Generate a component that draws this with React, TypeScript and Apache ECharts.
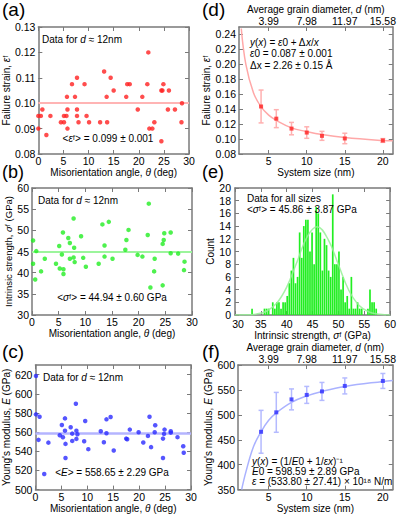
import { useEffect, useRef } from 'react';
import * as echarts from 'echarts';

// ---------------- data ----------------
// (a) failure strain vs misorientation angle (d ≈ 12 nm)
const thetaA = [0.0, 0.5, 0.0, 0.8, 1.6, 2.4, 4.5, 5.1, 5.1, 5.6, 5.7, 5.8, 5.8, 6.7, 7.3, 7.7, 7.7, 7.7, 8.0, 9.2, 9.6, 10.1, 12.3, 13.1, 13.6, 13.7, 14.4, 15.0, 17.5, 17.7, 18.2, 19.8, 20.7, 21.7, 21.9, 22.1, 22.7, 23.1, 24.5, 24.5, 24.7, 24.9, 25.8, 26.0, 27.2, 28.5, 28.6];
const strainA = [0.095, 0.095, 0.090, 0.0975, 0.0875, 0.095, 0.0925, 0.0925, 0.095, 0.095, 0.1025, 0.0975, 0.090, 0.1075, 0.1025, 0.110, 0.0975, 0.095, 0.0925, 0.1075, 0.095, 0.0925, 0.0925, 0.1125, 0.1025, 0.0925, 0.110, 0.105, 0.1025, 0.1075, 0.1075, 0.0975, 0.1025, 0.1075, 0.120, 0.090, 0.090, 0.0925, 0.085, 0.105, 0.105, 0.1075, 0.0975, 0.105, 0.0975, 0.0925, 0.100];
const meanStrain = 0.099;

// (b) intrinsic strength vs misorientation angle
const thetaB = [0.2, 0.2, 0.6, 0.8, 1.7, 2.4, 4.5, 5.1, 5.2, 5.6, 5.8, 5.9, 5.9, 6.8, 7.1, 7.1, 7.8, 7.9, 7.8, 8.0, 9.2, 9.6, 10.1, 12.5, 13.2, 13.6, 13.6, 14.4, 15.1, 17.5, 17.7, 18.1, 19.8, 20.7, 21.7, 21.9, 22.2, 23.0, 22.9, 24.5, 24.5, 24.7, 24.8, 26.0, 26.0, 27.4, 28.6, 28.5];
const strengthB = [47.6, 42.1, 38.4, 45.1, 40.3, 43.3, 42.1, 46.3, 41.0, 44.3, 49.5, 39.7, 40.8, 48.2, 47.0, 43.3, 52.8, 45.9, 43.6, 42.5, 48.6, 43.5, 41.4, 42.1, 51.4, 46.4, 43.8, 52.0, 43.3, 45.4, 47.7, 50.1, 44.2, 43.8, 48.9, 56.3, 36.5, 43.3, 40.3, 37.0, 46.8, 47.7, 49.3, 49.5, 44.6, 44.5, 42.6, 40.6];
const meanStrength = 44.94;

// (c) Young's modulus vs misorientation angle
const thetaC = [0.1, 0.1, 0.8, 0.6, 1.7, 2.5, 4.7, 5.1, 5.3, 5.7, 5.7, 5.8, 5.8, 6.8, 7.1, 7.1, 7.8, 7.9, 8.1, 7.9, 9.4, 9.6, 10.2, 12.6, 13.2, 13.7, 13.7, 14.5, 15.1, 17.5, 17.7, 18.2, 19.9, 20.8, 21.7, 22.0, 22.3, 23.1, 23.0, 24.6, 24.6, 24.9, 24.8, 26.1, 26.1, 27.4, 28.5, 28.6];
const modulusC = [618.6, 578.5, 576.0, 551.9, 516.3, 549.0, 556.7, 567.4, 554.6, 561.5, 574.3, 547.7, 532.9, 565.0, 550.8, 558.4, 589.5, 561.5, 557.8, 552.9, 550.5, 571.6, 542.2, 560.9, 549.4, 558.8, 573.3, 575.7, 540.8, 553.2, 552.6, 562.6, 559.9, 549.1, 556.0, 576.0, 544.3, 567.1, 559.9, 553.2, 532.9, 562.6, 558.1, 560.9, 559.4, 554.7, 545.3, 538.4];
const meanModulus = 558.65;

// (d) failure strain vs system size
const sizes = [4, 6, 8, 10, 12, 15, 20];
const strainBySize = [0.1436, 0.1273, 0.114, 0.1087, 0.1043, 0.1008, 0.0981];
const strainErr = [0.022, 0.012, 0.0083, 0.0077, 0.006, 0.007, 0.0025];
const strainFitX = [1.4, 2, 3, 4, 5, 6, 8, 10, 12, 15, 20, 21.3];
const strainFitY = [0.248, 0.2, 0.162, 0.143, 0.132, 0.125, 0.115, 0.11, 0.106, 0.102, 0.098, 0.0976];

// (e) histogram of intrinsic strength (all sizes)
const histCenters = [33.3, 35.7, 36.1, 36.5, 37.3, 37.7, 38.1, 38.5, 38.9, 39.3, 39.7, 40.1, 40.5, 40.9, 41.3, 41.7, 42.1, 42.5, 42.9, 43.3, 43.7, 44.1, 44.5, 44.9, 45.3, 45.7, 46.1, 46.5, 46.9, 47.3, 47.7, 48.1, 48.5, 48.9, 49.3, 49.7, 50.1, 50.5, 50.9, 51.3, 51.7, 52.1, 52.5, 52.9, 53.3, 53.7, 54.1, 54.5, 55.7, 56.1, 56.5, 56.9, 57.3];
const histCounts = [1, 1, 1, 1, 2, 1, 2, 2, 1, 2, 2, 3, 5, 7, 9, 5, 6, 13, 9, 14, 15, 15, 10, 13, 8, 17, 16, 13, 7, 12, 11, 7, 6, 19, 8, 8, 10, 4, 6, 2, 3, 1, 6, 1, 1, 2, 1, 1, 1, 4, 2, 2, 1];
const gaussX = [30, 32, 34, 36, 38, 40, 42, 44, 45.9, 48, 50, 52, 54, 56, 58, 60];
const gaussY = [0, 0.02, 0.13, 0.55, 1.8, 4.4, 8.4, 12.4, 13.9, 11.9, 7.9, 3.9, 1.5, 0.45, 0.1, 0];

// (f) Young's modulus vs system size
const modulusBySize = [466, 505, 531, 540, 547, 558, 568];
const modulusErr = [43, 40, 21, 17, 18, 16, 15];
const modulusFitX = [1.45, 2, 3, 4, 5, 6, 8, 10, 12, 15, 20, 21.3];
const modulusFitY = [350, 385, 436, 466, 489, 504, 525, 538, 547, 557, 567, 569];

// tick values / labels
const thetaTicks = [0, 5, 10, 15, 20, 25, 30];
const strainTicksA = [0.08, 0.09, 0.1, 0.11, 0.12, 0.13];
const strengthTicks = [30, 35, 40, 45, 50, 55, 60];
const modulusTicksC = [500, 520, 540, 560, 580, 600, 620];
const sizeTicks = [5, 10, 15, 20];
const diameterLabels = ['3.99', '7.98', '11.97', '15.58'];
const strainTicksD = [0.08, 0.1, 0.12, 0.14, 0.16, 0.18, 0.2, 0.22, 0.24];
const histTicks = [30, 35, 40, 45, 50, 55, 60];
const countTicks = [0, 2, 4, 6, 8, 10, 12, 14, 16, 18, 20];
const modulusTicksF = [350, 400, 450, 500, 550, 600];

// ---------------- styling helpers ----------------
const FONT = '"Liberation Sans", Arial, Helvetica, sans-serif';
const AX = '#7a7a7a';
const TXT = '#000000';
const RED = '#ff2020';
const GREEN = '#22ee22';
const BLUE = '#2a2aff';

const rich = (size: number) => ({
  n: { fontSize: size, fontFamily: FONT, color: TXT },
  i: { fontSize: size, fontFamily: FONT, color: TXT, fontStyle: 'italic' },
});

const fmt2 = (v: number) => v.toFixed(2);
const fmt0 = (v: number) => String(Math.round(v));
// first label of the histogram's x axis sits a little to the right, as in the reference
const fmtHistX = (v: number) => (v === histTicks[0] ? `{p|${v}}` : String(v));

function axisBase(grid: number, pos: string, min: number, max: number, ticks: number[]) {
  return {
    type: 'value',
    gridIndex: grid,
    position: pos,
    min,
    max,
    axisLine: { show: true, onZero: false, lineStyle: { color: AX, width: 1.5 } },
    axisTick: { show: true, inside: true, length: 4, customValues: ticks, lineStyle: { color: AX, width: 1 } },
    splitLine: { show: false },
    axisLabel: { show: false },
  };
}

function labeledAxis(
  grid: number, pos: string, min: number, max: number, ticks: number[],
  formatter: (v: number) => string, margin: number, name: string, nameGap: number,
  nameSize = 10,
) {
  return {
    ...axisBase(grid, pos, min, max, ticks),
    axisLabel: {
      show: true, customValues: ticks, formatter, margin,
      fontSize: 10.5, lineHeight: 10, fontFamily: FONT, color: TXT,
      rich: {
        p: { padding: [0, 0, 0, 6], fontSize: 10.5, lineHeight: 10, fontFamily: FONT, color: TXT },
      },
    },
    name,
    nameLocation: 'middle',
    nameGap,
    nameTextStyle: { fontSize: nameSize, fontFamily: FONT, color: TXT, rich: rich(nameSize) },
  };
}

function errorBars(xi: number, xs: number[], ys: number[], es: number[], color: string) {
  return {
    type: 'custom',
    xAxisIndex: xi,
    yAxisIndex: xi,
    data: xs.map((x, i) => [x, ys[i], es[i]]),
    encode: { x: 0, y: 1 },
    silent: true,
    z: 2,
    renderItem: (_p: any, api: any) => {
      const x = api.value(0);
      const y = api.value(1);
      const e = api.value(2);
      const p1 = api.coord([x, y + e]);
      const p2 = api.coord([x, y - e]);
      const w = 2.5;
      const st = { stroke: color, lineWidth: 1.5 };
      return {
        type: 'group',
        children: [
          { type: 'line', shape: { x1: p1[0], y1: p1[1], x2: p2[0], y2: p2[1] }, style: st },
          { type: 'line', shape: { x1: p1[0] - w, y1: p1[1], x2: p1[0] + w, y2: p1[1] }, style: st },
          { type: 'line', shape: { x1: p2[0] - w, y1: p2[1], x2: p2[0] + w, y2: p2[1] }, style: st },
        ],
      };
    },
  };
}

function fitLine(xi: number, xs: number[], ys: number[], color: string) {
  return {
    type: 'line',
    xAxisIndex: xi,
    yAxisIndex: xi,
    data: xs.map((x, i) => [x, ys[i]]),
    showSymbol: false,
    symbol: 'none',
    smooth: 0.4,
    clip: true,
    silent: true,
    z: 1,
    lineStyle: { color, width: 1.5 },
  };
}

function scatter(xi: number, xs: number[], ys: number[], color: string, mean?: number, meanColor?: string, meanWidth?: number, symbol = 'circle', size = 4.5) {
  const s: any = {
    type: 'scatter',
    xAxisIndex: xi,
    yAxisIndex: xi,
    data: xs.map((x, i) => [x, ys[i]]),
    symbol,
    symbolSize: size,
    itemStyle: { color },
    silent: true,
    z: 3,
  };
  if (mean !== undefined) {
    s.markLine = {
      silent: true,
      symbol: 'none',
      label: { show: false },
      lineStyle: { color: meanColor, width: meanWidth, type: 'solid', opacity: 1 },
      data: [{ yAxis: mean }],
      z: 1,
    };
  }
  return s;
}

function txt(x: number, y: number, text: string, align = 'left', size = 10, lineHeight?: number) {
  const lh = lineHeight ?? Math.round(size * 1.15);
  return {
    type: 'text',
    x,
    y,
    silent: true,
    z: 10,
    style: {
      text,
      fill: TXT,
      fontSize: size,
      fontFamily: FONT,
      lineHeight: lh,
      align,
      verticalAlign: 'middle',
      textAlign: align,
      textVerticalAlign: 'middle',
      rich: {
        n: { fontSize: size, fontFamily: FONT, fill: TXT, color: TXT, lineHeight: lh },
        i: { fontSize: size, fontFamily: FONT, fill: TXT, color: TXT, fontStyle: 'italic', lineHeight: lh },
      },
    },
  };
}

function buildOption() {
  const thetaName = 'Misorientation angle, {i|θ} (deg)';
  const xAxes = [
    // 0,1: (a)
    labeledAxis(0, 'bottom', 0, 30, thetaTicks, fmt0, 2, thetaName, 10),
    axisBase(0, 'top', 0, 30, thetaTicks),
    // 2,3: (b)
    labeledAxis(1, 'bottom', 0, 30, thetaTicks, fmt0, 2, thetaName, 12),
    axisBase(1, 'top', 0, 30, thetaTicks),
    // 4,5: (c)
    labeledAxis(2, 'bottom', 0, 30, thetaTicks, fmt0, 2, thetaName, 9),
    axisBase(2, 'top', 0, 30, thetaTicks),
    // 6,7: (d)
    labeledAxis(3, 'bottom', 1.1, 21.3, sizeTicks, fmt0, 2, 'System size (nm)', 9),
    labeledAxis(3, 'top', 1.1, 21.3, sizeTicks, (v: number) => diameterLabels[sizeTicks.indexOf(v)] ?? '', 1, 'Average grain diameter, {i|d} (nm)', 10),
    // 8,9: (e)
    labeledAxis(4, 'bottom', 30, 60, histTicks, fmtHistX, 4, 'Intrinsic strength, {i|σ}ᶠ (GPa)', 13),
    axisBase(4, 'top', 30, 60, histTicks),
    // 10,11: (f)
    labeledAxis(5, 'bottom', 0.97, 21.3, sizeTicks, fmt0, 2, 'System size (nm)', 6),
    labeledAxis(5, 'top', 0.97, 21.3, sizeTicks, (v: number) => diameterLabels[sizeTicks.indexOf(v)] ?? '', 1, 'Average grain diameter, {i|d} (nm)', 10),
  ];
  const yAxes = [
    labeledAxis(0, 'left', 0.08, 0.13, strainTicksA, fmt2, 3, 'Failure strain, {i|ε}ᶠ', 21),
    axisBase(0, 'right', 0.08, 0.13, strainTicksA),
    labeledAxis(1, 'left', 30, 60, strengthTicks, fmt0, 3, 'Intrinsic strength, {i|σ}ᶠ (GPa)', 18, 9.5),
    axisBase(1, 'right', 30, 60, strengthTicks),
    labeledAxis(2, 'left', 500, 630, modulusTicksC, fmt0, 3, "Young's modulus, {i|E} (GPa)", 21),
    axisBase(2, 'right', 500, 630, modulusTicksC),
    labeledAxis(3, 'left', 0.08, 0.25, strainTicksD, fmt2, 3, 'Failure strain, {i|ε}ᶠ', 23),
    axisBase(3, 'right', 0.08, 0.25, strainTicksD),
    labeledAxis(4, 'left', 0, 20, countTicks, fmt0, 4, 'Count', 19),
    axisBase(4, 'right', 0, 20, countTicks),
    labeledAxis(5, 'left', 350, 600, modulusTicksF, fmt0, 3, "Young's modulus, {i|E} (GPa)", 23),
    axisBase(5, 'right', 350, 600, modulusTicksF),
  ];

  const series: any[] = [
    scatter(0, thetaA, strainA, RED, meanStrain, '#ffb4b4', 2),
    scatter(2, thetaB, strengthB, GREEN, meanStrength, '#9cf59c', 2),
    scatter(4, thetaC, modulusC, BLUE, meanModulus, '#b4b4ff', 2.5),
    // (d)
    fitLine(6, strainFitX, strainFitY, '#ffa8a8'),
    errorBars(6, sizes, strainBySize, strainErr, '#ffb0b0'),
    scatter(6, sizes, strainBySize, RED, undefined, undefined, undefined, 'rect', 4),
    // (e)
    {
      type: 'bar',
      xAxisIndex: 8,
      yAxisIndex: 8,
      data: histCenters.map((c, i) => [c, histCounts[i]]),
      barWidth: 1.7,
      itemStyle: { color: GREEN },
      silent: true,
      z: 2,
    },
    { ...fitLine(8, gaussX, gaussY, 'rgba(150,240,150,0.85)'), z: 3 },
    // (f)
    fitLine(10, modulusFitX, modulusFitY, '#aab2ff'),
    errorBars(10, sizes, modulusBySize, modulusErr, '#b4baff'),
    scatter(10, sizes, modulusBySize, BLUE, undefined, undefined, undefined, 'rect', 4),
  ];

  const graphic = [
    txt(2, 9, '(a)', 'left', 19, 16),
    txt(2, 172, '(b)', 'left', 18, 15),
    txt(2, 351, '(c)', 'left', 19, 16),
    txt(202, 9, '(d)', 'left', 19, 16),
    txt(202, 172, '(e)', 'left', 18, 15),
    txt(202, 351, '(f)', 'left', 19, 16),
    txt(42, 39, 'Data for {i|d} ≈ 12nm'),
    txt(108, 138, '<{i|ε}ᶠ> = 0.099 ± 0.001', 'center'),
    txt(38, 200, 'Data for {i|d} ≈ 12nm'),
    txt(112, 297, '<{i|σ}ᶠ> = 44.94 ± 0.60 GPa', 'center'),
    txt(43, 377, 'Data for {i|d} ≈ 12nm'),
    txt(112, 472, '<{i|E}> = 558.65 ± 2.29 GPa', 'center'),
    txt(250, 42, '{i|y}({i|x}) = {i|ε}0 + Δ{i|x}/{i|x}'),
    txt(250, 53.5, '{i|ε}0 = 0.087 ± 0.001'),
    txt(250, 65, 'Δx = 2.26 ± 0.15 Å'),
    txt(247, 198.5, 'Data for all sizes'),
    txt(247, 209.5, '<{i|σ}ᶠ> = 45.86 ± 3.87 GPa'),
    txt(252, 461, '{i|y}({i|x}) = (1/{i|E}0 + 1/{i|εx})⁻¹'),
    txt(252, 471.5, '{i|E}0 = 598.59 ± 2.89 GPa'),
    txt(252, 481, '{i|ε} = (533.80 ± 27.41) × 10¹⁸ N/m'),
  ];

  return {
    animation: false,
    backgroundColor: '#ffffff',
    textStyle: { fontFamily: FONT },
    grid: [
      { left: 35, top: 27, width: 154, height: 127 },
      { left: 32, top: 188, width: 160, height: 127 },
      { left: 34, top: 365, width: 157, height: 125 },
      { left: 239, top: 27, width: 155, height: 127 },
      { left: 235, top: 188, width: 159, height: 127 },
      { left: 238, top: 365, width: 156, height: 125 },
    ],
    xAxis: xAxes,
    yAxis: yAxes,
    series,
    graphic,
  };
}

export default function App() {
  const ref = useRef<HTMLDivElement>(null);
  useEffect(() => {
    if (!ref.current) return;
    const chart = echarts.init(ref.current, null, { renderer: 'svg' });
    chart.setOption(buildOption() as any);
    return () => chart.dispose();
  }, []);
  return (
    <div
      ref={ref}
      style={{ position: 'fixed', left: 0, top: 0, width: 399, height: 514, background: '#ffffff' }}
    />
  );
}
